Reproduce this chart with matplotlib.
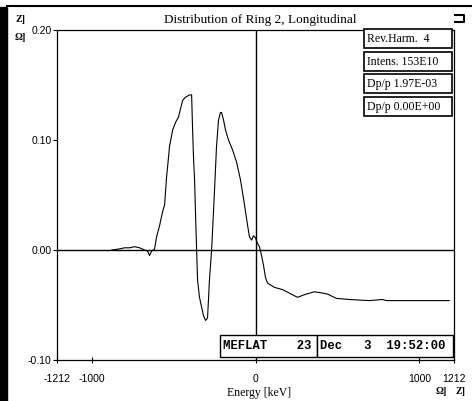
import matplotlib
matplotlib.use('Agg')
import matplotlib.pyplot as plt
from matplotlib.patches import Rectangle
from matplotlib.lines import Line2D

# energy (keV) and distribution value
energy = [-878, -830, -799, -769, -738, -708, -677, -659, -647, -634, -616,
          -604, -586, -567, -555, -543, -525, -506, -488, -470, -445, -427,
          -403, -390, -384, -378, -372, -366, -360, -354, -342, -329, -317,
          -305, -293, -287, -281, -268, -262, -250, -238, -226, -214, -207,
          -195, -183, -165, -140, -116, -92, -67, -49, -37, -24, -12, 0,
          12, 24, 37, 49, 61, 73, 116, 165, 256, 311, 360, 403, 439, 494,
          573, 695, 775, 799, 939, 1061, 1183]
dist = [0.000, 0.001, 0.002, 0.002, 0.003, 0.002, 0.000, -0.001, -0.005, -0.001, 0.001,
        0.012, 0.022, 0.035, 0.041, 0.066, 0.094, 0.109, 0.116, 0.121, 0.136, 0.139,
        0.141, 0.141, 0.109, 0.082, 0.064, 0.032, 0.003, -0.027, -0.043, -0.052, -0.060,
        -0.064, -0.062, -0.045, -0.027, 0.000, 0.018, 0.055, 0.094, 0.118, 0.125, 0.125,
        0.118, 0.109, 0.100, 0.091, 0.080, 0.064, 0.041, 0.023, 0.012, 0.009, 0.013, 0.011,
        0.006, 0.003, -0.005, -0.014, -0.025, -0.030, -0.034, -0.036, -0.043, -0.040, -0.038,
        -0.039, -0.040, -0.044, -0.045, -0.046, -0.045, -0.046, -0.046, -0.046, -0.046]

xticks = [-1212, -1000, 0, 1000, 1212]
yticks = [-0.10, 0.00, 0.10, 0.20]
ytick_labels = ['-0.10', '0.00', '0.10', '0.20']
info_boxes = ['Rev.Harm.  4', 'Intens. 153E10', 'Dp/p 1.97E-03', 'Dp/p 0.00E+00']
run_name = 'MEFLAT    23'
run_date = 'Dec   3  19:52:00'
title = 'Distribution of Ring 2, Longitudinal'

W, H = 472, 401
fig = plt.figure(figsize=(W / 100, H / 100), dpi=100)

def px(x, y):
    return (x / W, 1 - y / H)

ax = fig.add_axes([57 / W, 1 - 360 / H, (454 - 57) / W, (360 - 30) / H])
ax.plot(energy, dist, color='black', lw=0.8)
ax.axhline(0, color='black', lw=1.0)
ax.axvline(0, color='black', lw=1.0)
ax.set_xlim(-1212, 1212)
ax.set_ylim(-0.10, 0.20)
ax.set_xticks(xticks)
ax.set_xticklabels([str(t) for t in xticks], fontsize=7.5, family='Liberation Sans')
ax.set_yticks(yticks)
ax.set_yticklabels(ytick_labels, fontsize=7.5, family='Liberation Sans')
ax.tick_params(axis='x', direction='inout', length=4, width=0.8, pad=8)
ax.tick_params(axis='y', direction='out', length=3, width=0.8, pad=1)
ax.set_xlabel('Energy [keV]', fontsize=8.5, family='Liberation Serif')
ax.xaxis.set_label_coords(0.51, -0.083)
for s in ax.spines.values():
    s.set_linewidth(0.9)

# window decorations
fig.add_artist(Rectangle((0, 0), 7 / W, 1 - 7 / H, transform=fig.transFigure, color='black'))
fig.add_artist(Line2D([7 / W, 1], [1 - 6 / H, 1 - 6 / H], transform=fig.transFigure, color='black', lw=1.5))
fig.text(*px(260, 20), title, ha='center', va='center', fontsize=9.5, family='Liberation Serif')
fig.text(*px(20, 19), 'Z]', ha='center', va='center', fontsize=7, family='Liberation Serif', fontweight='bold')
fig.text(*px(20, 37), 'Ω]', ha='center', va='center', fontsize=7, family='Liberation Serif', fontweight='bold')
fig.text(*px(441, 392), 'Ω]', ha='center', va='center', fontsize=7, family='Liberation Serif', fontweight='bold')
fig.text(*px(461, 392), 'Z]', ha='center', va='center', fontsize=7, family='Liberation Serif', fontweight='bold')
fig.add_artist(Line2D([455 / W, 464 / W, 464 / W, 455 / W], [1 - 15 / H, 1 - 15 / H, 1 - 22 / H, 1 - 22 / H],
                      transform=fig.transFigure, color='black', lw=1.5))

# info boxes at the top right
box_top = [29, 52, 74, 97]
for label, top in zip(info_boxes, box_top):
    x0, y0 = px(364, top + 19)
    fig.add_artist(Rectangle((x0, y0), (452 - 364) / W, 19 / H, transform=fig.transFigure,
                             facecolor='white', edgecolor='black', lw=1.2))
    fig.text(*px(367, top + 10), label, ha='left', va='center', fontsize=8.5, family='Liberation Serif')

# run name / date boxes at the bottom
x0, y0 = px(220, 357)
fig.add_artist(Rectangle((x0, y0), (317 - 220) / W, 22 / H, transform=fig.transFigure,
                         facecolor='white', edgecolor='black', lw=1.0))
fig.add_artist(Rectangle(px(317, 357), (453 - 317) / W, 22 / H, transform=fig.transFigure,
                         facecolor='white', edgecolor='black', lw=1.0))
fig.text(*px(223, 346), run_name, ha='left', va='center', fontsize=8.8, family='Liberation Mono', fontweight='bold')
fig.text(*px(320, 346), run_date, ha='left', va='center', fontsize=8.8, family='Liberation Mono', fontweight='bold')

fig.savefig('out.png', dpi=100)
